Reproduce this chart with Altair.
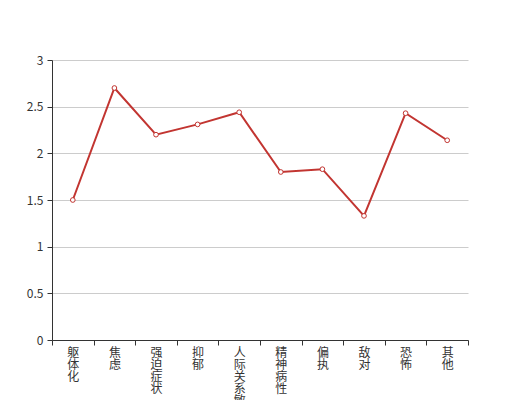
import altair as alt
import pandas as pd

categories = ["躯体化", "焦虑", "强迫症状", "抑郁", "人际关系敏感", "精神病性", "偏执", "敌对", "恐怖", "其他"]
values = [1.5, 2.7, 2.2, 2.31, 2.44, 1.8, 1.83, 1.33, 2.43, 2.14]
y_ticks = [0, 0.5, 1, 1.5, 2, 2.5, 3]

df = pd.DataFrame({"cat": categories, "val": values})

FONT = "Noto Sans CJK SC"

x = alt.X("cat:N", sort=categories, title=None,
          scale=alt.Scale(paddingInner=0, paddingOuter=0),
          axis=alt.Axis(labelAngle=0, tickBand="extent", labelExpr="split(datum.label, '')",
                        labelLineHeight=12, labelFontSize=12, labelFont=FONT, labelColor="#333",
                        labelBaseline="top", labelPadding=2,
                        domainColor="#333", tickColor="#333", tickSize=5, grid=False))
y = alt.Y("val:Q", title=None,
          scale=alt.Scale(domain=[0, 3]),
          axis=alt.Axis(values=y_ticks, format="~g", labelFontSize=12, labelFont=FONT,
                        labelColor="#333", domainColor="#333", tickColor="#333", tickSize=5,
                        gridColor="#ccc", labelPadding=4))

line = alt.Chart(df).mark_line(color="#c23531", strokeWidth=2).encode(x=x, y=y)
pts = alt.Chart(df).mark_point(shape="circle", filled=True, fill="white", stroke="#c23531",
                               strokeWidth=1, size=22, opacity=1).encode(x=x, y=y)

chart = (line + pts).properties(
    width=416, height=280,
    autosize=alt.AutoSizeParams(type="none"),
    padding={"left": 44, "top": 52, "right": 40, "bottom": 60},
).configure_view(stroke=None)

chart.save("out.html", embed_options={"renderer": "svg", "actions": False})
